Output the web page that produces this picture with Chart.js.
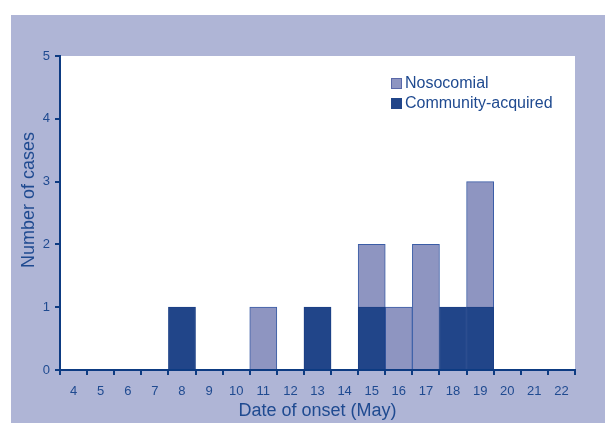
<!DOCTYPE html>
<html lang="en">
<head>
  <meta charset="UTF-8" />
  <title>Cases by date of onset</title>
  <script src="https://cdn.jsdelivr.net/npm/chart.js"></script>
  <style>
    body {
      margin: 0;
      background: #fff;
    }
    .wrap {
      width: 605px;
      height: 423px;
    }
  </style>
</head>
<body>
  <div class="wrap"><canvas id="onsetChart"></canvas></div>

  <script>
    const days = ['4', '5', '6', '7', '8', '9', '10', '11', '12', '13', '14', '15', '16', '17', '18', '19', '20', '21', '22'];
    const community = [null, null, null, null, 1, null, null, null, null, 1, null, 1, null, null, 1, 1, null, null, null];
    const nosocomial = [null, null, null, null, null, null, null, 1, null, null, null, 1, 1, 2, null, 2, null, null, null];
    const yTicks = [0, 1, 2, 3, 4, 5];
    const yTitle = 'Number of cases';

    const navy = '#0d3b82';
    const textBlue = '#1f4a90';
    const frame = '#afb5d6';
    const fontFam = '"Liberation Sans", Arial, sans-serif';

    // lavender frame + white plot area
    const backdrop = {
      id: 'backdrop',
      beforeDraw(chart) {
        const { ctx, chartArea: a } = chart;
        ctx.save();
        ctx.fillStyle = frame;
        ctx.fillRect(11, 15, chart.width - 11, chart.height - 15);
        ctx.fillStyle = '#fff';
        ctx.fillRect(a.left, a.top, a.right - a.left, a.bottom - a.top);
        ctx.restore();
      }
    };

    // y title sits a bit above the plot centre in the original
    const sideTitle = {
      id: 'sideTitle',
      afterDraw(chart) {
        const { ctx } = chart;
        ctx.save();
        ctx.translate(33.5, 200);
        ctx.rotate(-Math.PI / 2);
        ctx.font = '18px ' + fontFam;
        ctx.fillStyle = textBlue;
        ctx.textAlign = 'center';
        ctx.textBaseline = 'alphabetic';
        ctx.fillText(yTitle, 0, 0);
        ctx.restore();
      }
    };

    // legend drawn inside the plot, top right
    const boxLegend = {
      id: 'boxLegend',
      afterDraw(chart) {
        const { ctx } = chart;
        const items = chart.data.datasets.slice().reverse();
        ctx.save();
        ctx.font = '16px ' + fontFam;
        ctx.textBaseline = 'middle';
        items.forEach((ds, i) => {
          const y = 84 + i * 20;
          ctx.fillStyle = ds.backgroundColor;
          ctx.fillRect(391, y - 6, 11, 11);
          ctx.strokeStyle = ds.legendBorder;
          ctx.lineWidth = 1;
          ctx.strokeRect(391.5, y - 5.5, 10, 10);
          ctx.fillStyle = textBlue;
          ctx.fillText(ds.label, 405, y);
        });
        ctx.restore();
      }
    };

    new Chart(document.getElementById('onsetChart'), {
      type: 'bar',
      data: {
        labels: days,
        datasets: [
          {
            label: 'Community-acquired',
            data: community,
            backgroundColor: '#214589',
            borderColor: '#1b3f86',
            legendBorder: '#214589',
            borderWidth: 1,
            barPercentage: 1,
            categoryPercentage: 1
          },
          {
            label: 'Nosocomial',
            data: nosocomial,
            backgroundColor: '#8e95c1',
            borderColor: '#3b5da6',
            legendBorder: '#5a68a8',
            borderWidth: 1,
            barPercentage: 1,
            categoryPercentage: 1
          }
        ]
      },
      options: {
        responsive: true,
        maintainAspectRatio: false,
        animation: false,
        layout: { padding: { top: 56, right: 30, left: 0, bottom: 0 } },
        plugins: {
          legend: { display: false },
          tooltip: { enabled: false }
        },
        scales: {
          x: {
            stacked: true,
            afterFit(scale) { scale.height = 53; },
            grid: {
              offset: true,
              drawOnChartArea: false,
              color: navy,
              lineWidth: 2,
              tickLength: 5
            },
            border: { display: true, color: navy, width: 2 },
            ticks: {
              color: textBlue,
              padding: 9,
              maxRotation: 0,
              font: { family: fontFam, size: 13 }
            },
            title: {
              display: true,
              text: 'Date of onset (May)',
              color: textBlue,
              padding: { top: 0, bottom: 1 },
              font: { family: fontFam, size: 18 }
            }
          },
          y: {
            stacked: true,
            min: 0,
            max: 5,
            afterFit(scale) { scale.width = 60; },
            afterBuildTicks(scale) { scale.ticks = yTicks.map(v => ({ value: v })); },
            grid: {
              drawOnChartArea: false,
              color: navy,
              lineWidth: 2,
              tickLength: 5
            },
            border: { display: true, color: navy, width: 2 },
            ticks: {
              color: textBlue,
              padding: 5,
              font: { family: fontFam, size: 13 }
            }
          }
        }
      },
      plugins: [backdrop, sideTitle, boxLegend]
    });
  </script>
</body>
</html>
